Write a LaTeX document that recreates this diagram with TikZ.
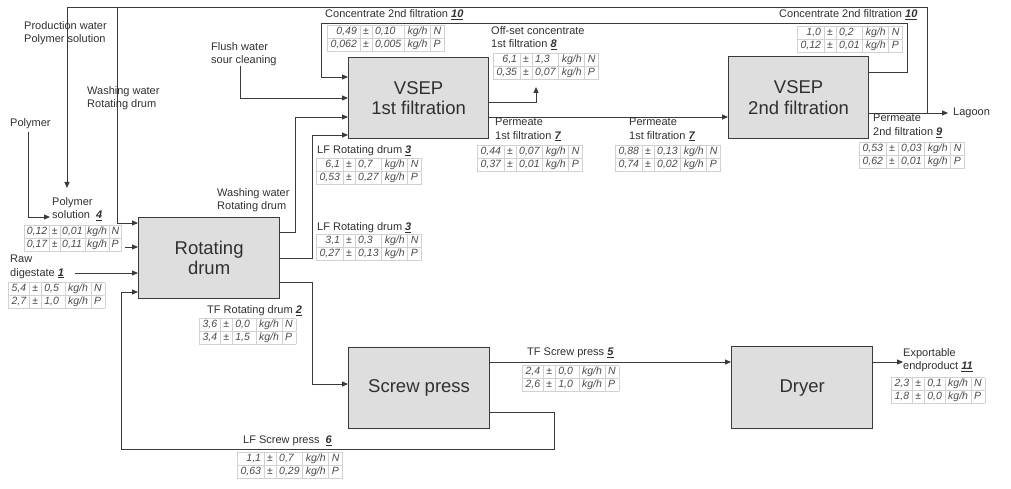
\documentclass[tikz,border=0pt]{standalone}
\usepackage{fontspec}
\setmainfont{Liberation Sans}
\usepackage{colortbl}
\usetikzlibrary{arrows.meta}
\definecolor{ln}{HTML}{3A3A3A}
\definecolor{boxfill}{HTML}{DEDEDE}
\definecolor{tabtext}{HTML}{4A4A4A}
\definecolor{txt}{HTML}{303030}
\setlength\tabcolsep{2.8pt}
\setlength\arrayrulewidth{0.6pt}
\renewcommand\arraystretch{1.0}
\newcommand\fnum[1]{\underline{\textbf{\textit{#1}}}}
\newcommand\ftab[2]{{\fontsize{10.5}{12.5}\selectfont\itshape\color{tabtext}\arrayrulecolor{black!18}%
\begin{tabular}{|r|c|l|l|l|}\hline #1\\\hline #2\\\hline\end{tabular}}}
\tikzset{
  procbox/.style={draw=ln, line width=1.2pt, fill=boxfill, anchor=north west,
    align=center, font=\fontsize{18.5}{20.5}\selectfont, text=txt, inner sep=0pt},
  flow/.style={draw=ln, line width=0.9pt},
  arr/.style={flow, -{Triangle[length=6pt,width=5pt]}},
  lbl/.style={inner sep=0pt, align=left, font=\fontsize{11}{13.5}\selectfont, text=txt},
  tab/.style={anchor=north west, inner sep=0pt}
}
\begin{document}
\begin{tikzpicture}[x=1pt,y=-1pt]
\useasboundingbox (0,0) rectangle (1011,489);
% process boxes
\node[procbox, minimum width=141pt, minimum height=81pt] (drum) at (138,217) {Rotating\\drum};
\node[procbox, minimum width=140pt, minimum height=81pt] (vsep1) at (348,57) {VSEP\\1st filtration};
\node[procbox, minimum width=140pt, minimum height=82pt] (vsep2) at (728,56) {VSEP\\2nd filtration};
\node[procbox, minimum width=141pt, minimum height=81pt] (screw) at (348,347) {Screw press};
\node[procbox, minimum width=141pt, minimum height=82pt] (dryer) at (731,346) {Dryer};
% free ends
\coordinate (lagoon) at (948,113);
\coordinate (export) at (903,362);
\coordinate (offset) at (536,87);
\coordinate (polysol) at (50,217);
\coordinate (prodwater) at (67,188);
\coordinate (raw) at (75,273);
\coordinate (polytab) at (125,247);
\coordinate (flush) at (240,66);
\coordinate (polymer) at (28,132);
% connectors
\draw[arr] (vsep2.east |- 0,113) -- (lagoon);
\draw[arr] (927,113) -- (927,7) -- (67,7) -- (prodwater);
\draw[arr] (117,7) -- (117,223) -- (drum.west |- 0,223);
\draw[arr] (polymer) -- (28,217) -- (polysol);
\draw[arr] (polytab) -- (drum.west |- 0,247);
\draw[arr] (raw) -- (drum.west |- 0,273);
\draw[arr] (flush) -- (240,98) -- (vsep1.west |- 0,98);
\draw[arr] (vsep2.east |- 0,72) -- (907,72) -- (907,23) -- (321,23) -- (321,77) -- (vsep1.west |- 0,77);
\draw[arr] (drum.east |- 0,232) -- (295,232) -- (295,117) -- (vsep1.west |- 0,117);
\draw[arr] (drum.east |- 0,258) -- (312,258) -- (312,135) -- (vsep1.west |- 0,135);
\draw[arr] (drum.east |- 0,282) -- (312,282) -- (312,384) -- (screw.west |- 0,384);
\draw[arr] (vsep1.east |- 0,102) -- (536,102) -- (offset);
\draw[arr] (vsep1.east |- 0,117) -- (vsep2.west |- 0,117);
\draw[arr] (screw.east |- 0,362) -- (dryer.west |- 0,362);
\draw[arr] (dryer.east |- 0,362) -- (export);
\draw[arr] (screw.east |- 0,412) -- (554,412) -- (554,449) -- (121,449) -- (121,292) -- (drum.west |- 0,292);
% labels
\node[lbl, anchor=north west] (lprod) at (24,21) {Production water\\Polymer solution};
\node[lbl, anchor=north west] (lwash1) at (87,86) {Washing water\\Rotating drum};
\node[lbl, anchor=west] (lpoly) at (10,124) {Polymer};
\node[lbl, anchor=north west] (lflush) at (211,42) {Flush water\\sour cleaning};
\node[lbl, anchor=west] (lc10a) at (325,15) {Concentrate 2nd filtration \fnum{10}};
\node[lbl, anchor=west] (lc10b) at (779,15) {Concentrate 2nd filtration \fnum{10}};
\node[lbl, anchor=north west] (loff) at (491,26) {Off-set concentrate\\1st filtration \fnum{8}};
\node[lbl, anchor=north west] (lp7a) at (495,118) {Permeate\\1st filtration \fnum{7}};
\node[lbl, anchor=north west] (lp7b) at (629,118) {Permeate\\1st filtration \fnum{7}};
\node[lbl, anchor=north west] (lp9) at (873,114) {Permeate\\2nd filtration \fnum{9}};
\node[lbl, anchor=west] (llag) at (953,113) {Lagoon};
\node[lbl, anchor=west] (llf3a) at (317,151) {LF Rotating drum \fnum{3}};
\node[lbl, anchor=west] (llf3b) at (317,228) {LF Rotating drum \fnum{3}};
\node[lbl, anchor=north west] (lwash2) at (217,188) {Washing water\\Rotating drum};
\node[lbl, anchor=north west] (lps4) at (52,197) {Polymer\\solution \ \fnum{4}};
\node[lbl, anchor=north west] (lraw) at (10,255) {Raw\\digestate \fnum{1}};
\node[lbl, anchor=west] (ltf2) at (207,311) {TF Rotating drum \fnum{2}};
\node[lbl, anchor=west] (ltf5) at (527,353) {TF Screw press \fnum{5}};
\node[lbl, anchor=west] (llf6) at (243,441) {LF Screw press \ \fnum{6}};
\node[lbl, anchor=north west] (lexp) at (903,348) {Exportable\\endproduct \fnum{11}};
% tables
\node[tab] (t10a) at (327,25) {\ftab{0,49 & ± & 0,10 & kg/h & N}{0,062 & ± & 0,005 & kg/h & P}};
\node[tab] (t8) at (493,53) {\ftab{6,1 & ± & 1,3\ \ & kg/h & N}{0,35 & ± & 0,07 & kg/h & P}};
\node[tab] (t3a) at (316,158) {\ftab{6,1 & ± & 0,7\ \ & kg/h & N}{0,53 & ± & 0,27 & kg/h & P}};
\node[tab] (t3b) at (316,234) {\ftab{3,1 & ± & 0,3\ \ & kg/h & N}{0,27 & ± & 0,13 & kg/h & P}};
\node[tab] (t7a) at (477,145) {\ftab{0,44 & ± & 0,07 & kg/h & N}{0,37 & ± & 0,01 & kg/h & P}};
\node[tab] (t7b) at (615,145) {\ftab{0,88 & ± & 0,13 & kg/h & N}{0,74 & ± & 0,02 & kg/h & P}};
\node[tab] (t10b) at (797,26) {\ftab{1,0 & ± & 0,2\ \ & kg/h & N}{0,12 & ± & 0,01 & kg/h & P}};
\node[tab] (t9) at (859,142) {\ftab{0,53 & ± & 0,03 & kg/h & N}{0,62 & ± & 0,01 & kg/h & P}};
\node[tab] (t4) at (24,225) {\setlength\tabcolsep{2pt}\ftab{0,12 & ± & 0,01 & kg/h & N}{0,17 & ± & 0,11 & kg/h & P}};
\node[tab] (t1) at (8,282) {\ftab{5,4 & ± & 0,5\ \ & kg/h & N}{2,7 & ± & 1,0\ \ & kg/h & P}};
\node[tab] (t2) at (199,318) {\ftab{3,6 & ± & 0,0\ \ & kg/h & N}{3,4 & ± & 1,5\ \ & kg/h & P}};
\node[tab] (t5) at (522,365) {\ftab{2,4 & ± & 0,0\ \ & kg/h & N}{2,6 & ± & 1,0\ \ & kg/h & P}};
\node[tab] (t6) at (237,452) {\ftab{1,1 & ± & 0,7\ \ & kg/h & N}{0,63 & ± & 0,29 & kg/h & P}};
\node[tab] (t11) at (891,377) {\ftab{2,3 & ± & 0,1 & kg/h & N}{1,8 & ± & 0,0 & kg/h & P}};
\end{tikzpicture}
\end{document}
